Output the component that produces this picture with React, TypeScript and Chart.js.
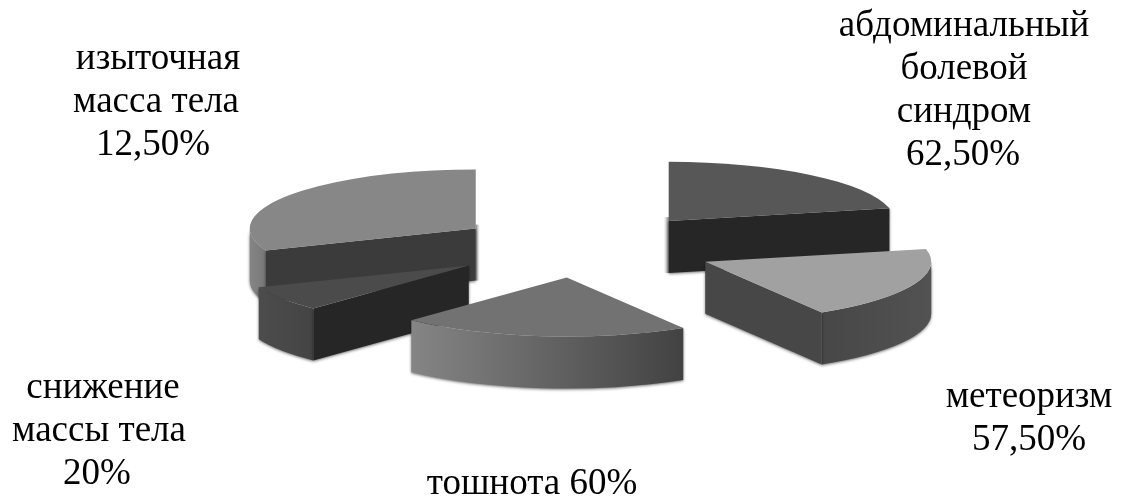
import React, { useEffect, useRef } from "react";
import { Chart, registerables } from "chart.js";

Chart.register(...registerables);

// Symptom shares, in the order the wedges run clockwise from twelve o'clock.
const categories = [
  ["абдоминальный", "болевой", "синдром"],
  ["метеоризм"],
  ["тошнота"],
  ["снижение", "массы тела"],
  ["изыточная", "масса тела"],
];
const values = [62.5, 57.5, 60, 20, 12.5];
// Unlabelled extra sweep that widens the last wedge; it shares that wedge's fill.
const lastWedgeExtra = [77.5];

// Fills: top face, radial face, outer wall (left and right end of the gradient).
const topColours = ["#575757", "#a1a1a1", "#727272", "#4b4b4b", "#878787", "#878787"];
const faceColours = ["#262626", "#474747", "#6a6a6a", "#262626", "#3b3b3b"];
const wallLeft = ["#444444", "#474747", "#858585", "#4c4c4c", "#858585"];
const wallRight = ["#444444", "#525252", "#424242", "#444444", "#787878"];
const paintOrder = [0, 4, 3, 1, 2];

// Layout of the tilted pie.
const TILT = 0.262;
const DEPTH = 52;
const EXPLODE = 132;
const RADIUS = 226;
const nudgeX = [1, -1, -4, -7, 0];
const nudgeY = [0, 0, -5, -2, 0];

// Text layout: centre x of every line, first baseline of each block, shared line height.
const labelX = [
  [964, 964, 964, 963],
  [1029, 1029],
  [532],
  [103, 99, 97],
  [158, 156, 153],
];
const labelY = [36, 407, 494, 398, 69];
const LINE_HEIGHT = 43;
const LABEL_FONT = "37px 'Liberation Serif', 'Times New Roman', serif";

const percentText = (v: number) =>
  (Number.isInteger(v) ? String(v) : v.toFixed(2).replace(".", ",")) + "%";

const pie3d = {
  id: "pie3d",
  beforeDatasetsDraw(chart: any) {
    const { ctx } = chart;
    const arcs = chart.getDatasetMeta(0).data;
    const wedges = values.map((_, i) => {
      const first = arcs[i];
      const last = i === values.length - 1 ? arcs[arcs.length - 1] : first;
      return {
        cx: first.x,
        cy: first.y,
        r: first.outerRadius,
        a: first.startAngle,
        b: last.endAngle,
        top: first.options.backgroundColor,
      };
    });

    for (const i of paintOrder) {
      const w = wedges[i];
      const mid = (w.a + w.b) / 2;
      const x0 = w.cx + EXPLODE * Math.cos(mid) + nudgeX[i];
      const y0 = w.cy + EXPLODE * TILT * Math.sin(mid) + nudgeY[i];
      const rim = (t: number) => [x0 + w.r * Math.cos(t), y0 + w.r * TILT * Math.sin(t)];

      ctx.save();
      // Soft rim on the hidden vertical edge of the two wedges that meet at twelve o'clock.
      if (i === 0 || i === 4) {
        const side = i === 0 ? -6 : 5;
        const g = ctx.createLinearGradient(x0, 0, x0 + side, 0);
        g.addColorStop(0, "#6e6e6e");
        g.addColorStop(1, "rgba(255,255,255,0)");
        ctx.fillStyle = g;
        ctx.fillRect(Math.min(x0, x0 + side), y0 - 4, Math.abs(side), DEPTH + 4);
      }

      ctx.shadowColor = "rgba(0,0,0,0.55)";
      ctx.shadowBlur = 3;
      ctx.shadowOffsetY = 1;

      // Outer wall: only the part of the rim that faces the viewer.
      const from = Math.max(w.a, 0);
      const to = Math.min(w.b, Math.PI);
      if (to > from) {
        const [xa] = rim(from);
        const [xb] = rim(to);
        const g = ctx.createLinearGradient(Math.min(xa, xb), 0, Math.max(xa, xb), 0);
        g.addColorStop(0, wallLeft[i]);
        g.addColorStop(1, wallRight[i]);
        ctx.beginPath();
        ctx.ellipse(x0, y0, w.r, w.r * TILT, 0, from, to);
        ctx.ellipse(x0, y0 + DEPTH, w.r, w.r * TILT, 0, to, from, true);
        ctx.closePath();
        ctx.fillStyle = g;
        ctx.fill();
      }

      // Radial faces on the straight edges that look toward the viewer.
      const faces: number[] = [];
      if (Math.cos(w.a) < -0.05) faces.push(w.a);
      if (Math.cos(w.b) > 0.05) faces.push(w.b);
      for (const t of faces) {
        const [xr, yr] = rim(t);
        ctx.beginPath();
        ctx.moveTo(x0, y0);
        ctx.lineTo(xr, yr);
        ctx.lineTo(xr, yr + DEPTH);
        ctx.lineTo(x0, y0 + DEPTH);
        ctx.closePath();
        ctx.fillStyle = faceColours[i];
        ctx.fill();
      }

      ctx.shadowColor = "transparent";
      ctx.beginPath();
      ctx.moveTo(x0, y0);
      ctx.ellipse(x0, y0, w.r, w.r * TILT, 0, w.a, w.b);
      ctx.closePath();
      ctx.fillStyle = w.top;
      ctx.fill();
      ctx.restore();
    }

    ctx.save();
    ctx.font = LABEL_FONT;
    ctx.fillStyle = "#000000";
    ctx.textAlign = "center";
    ctx.textBaseline = "alphabetic";
    categories.forEach((lines, i) => {
      const value = percentText(values[i]);
      const block = i === 2 ? [`${lines[0]} ${value}`] : [...lines, value];
      block.forEach((line, n) => ctx.fillText(line, labelX[i][n], labelY[i] + n * LINE_HEIGHT));
    });
    ctx.restore();
    return false;
  },
};

export default function App() {
  const ref = useRef<HTMLCanvasElement>(null);

  useEffect(() => {
    const chart = new Chart(ref.current!, {
      type: "pie",
      data: {
        labels: [...categories.map((c) => c.join(" ")), ""],
        datasets: [
          {
            data: [...values, ...lastWedgeExtra],
            backgroundColor: topColours,
            borderWidth: 0,
          },
        ],
      },
      options: {
        responsive: false,
        animation: false,
        radius: RADIUS,
        layout: { padding: { left: 43, bottom: 2 } },
        plugins: { legend: { display: false }, tooltip: { enabled: false } },
      },
      plugins: [pie3d],
    } as any);
    return () => chart.destroy();
  }, []);

  return (
    <div style={{ position: "absolute", left: 0, top: 0, background: "#ffffff" }}>
      <canvas ref={ref} width={1127} height={498} style={{ display: "block" }} />
    </div>
  );
}
